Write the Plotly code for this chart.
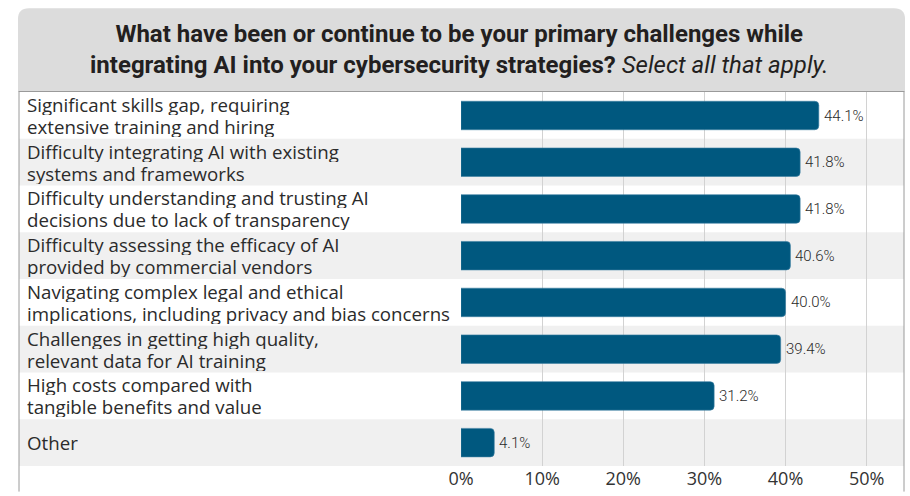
import plotly.graph_objects as go

categories = [
    "Significant skills gap, requiring<br>extensive training and hiring",
    "Difficulty integrating AI with existing<br>systems and frameworks",
    "Difficulty understanding and trusting AI<br>decisions due to lack of transparency",
    "Difficulty assessing the efficacy of AI<br>provided by commercial vendors",
    "Navigating complex legal and ethical<br>implications, including privacy and bias concerns",
    "Challenges in getting high quality,<br>relevant data for AI training",
    "High costs compared with<br>tangible benefits and value",
    "Other",
]
values = [44.1, 41.8, 41.8, 40.6, 40.0, 39.4, 31.2, 4.1]
tick_vals = [0, 10, 20, 30, 40, 50]
tick_labels = ["0%", "10%", "20%", "30%", "40%", "50%"]

W, H = 910, 496
ML, MR, MT, MB = 10, 6, 92, 24
PW = W - ML - MR
PH = H - MT - MB


def px(x):
    return (x - ML) / PW


def py(y):
    return (H - MB - y) / PH


BAR = "#00587f"
TXT = "#2b2b2b"
BAND = "#f0f0f0"
FRAME = "#9a9a9a"

fig = go.Figure()
fig.add_trace(go.Bar(
    x=values, y=categories, orientation="h", width=0.61,
    marker=dict(color=BAR, cornerradius=4, line=dict(color="#3d7fa3", width=0.6)),
    hoverinfo="skip", cliponaxis=False,
))

shapes = []
for i, c in enumerate(categories):
    if i % 2 == 1:
        shapes.append(dict(type="rect", xref="paper", yref="y", x0=0, x1=1,
                           y0=i - 0.5, y1=i + 0.5, fillcolor=BAND,
                           line=dict(width=0), layer="below"))
x0, x1, y0, y1, r = 9, 905, 7, 92, 11
path = (f"M {px(x0)},{py(y1)} L {px(x0)},{py(y0 + r)} "
        f"Q {px(x0)},{py(y0)} {px(x0 + r)},{py(y0)} "
        f"L {px(x1 - r)},{py(y0)} Q {px(x1)},{py(y0)} {px(x1)},{py(y0 + r)} "
        f"L {px(x1)},{py(y1)} Z")
shapes.append(dict(type="path", xref="paper", yref="paper", path=path,
                   fillcolor="#dcdcdc", line=dict(width=0), layer="below"))
for xx in (10, 904):
    shapes.append(dict(type="line", xref="paper", yref="paper",
                       x0=px(xx), x1=px(xx), y0=py(91), y1=py(H + 2),
                       line=dict(color=FRAME, width=1)))
shapes.append(dict(type="line", xref="paper", yref="paper",
                   x0=px(10), x1=px(904), y0=py(91.5), y1=py(91.5),
                   line=dict(color=FRAME, width=1)))

annotations = []
annotations.append(dict(
    xref="paper", yref="paper", x=px(455), y=py(49), xanchor="center", yanchor="middle",
    text="<b>What have been or continue to be your primary challenges while<br>"
         "integrating AI into your cybersecurity strategies?</b> <i>Select all that apply.</i>",
    showarrow=False, align="center",
    font=dict(family="Roboto, Open Sans", size=24, color="#231f20"),
))
for c, v in zip(categories, values):
    lines = c.split("<br>")
    n = len(lines)
    for k, ln in enumerate(lines):
        annotations.append(dict(
            xref="paper", yref="y", x=0, y=c, xanchor="left", yanchor="middle",
            xshift=6, yshift=(n - 1) * 11 - k * 22, text=ln, align="left", showarrow=False,
            height=21, valign="middle",
            font=dict(family="Open Sans, Noto Sans", size=18.7, color=TXT),
        ))
    annotations.append(dict(
        xref="x", yref="y", x=v, y=c, xanchor="left", yanchor="middle",
        xshift=3, text=f"{v:.1f}%", showarrow=False,
        font=dict(family="Roboto", size=15, weight=300, color="#2a2a2a"),
    ))

fig.update_layout(
    width=W, height=H,
    margin=dict(l=ML, r=MR, t=MT, b=MB, pad=0),
    paper_bgcolor="white", plot_bgcolor="rgba(0,0,0,0)",
    showlegend=False, shapes=shapes, annotations=annotations,
    xaxis=dict(range=[0, 54.6], domain=[px(456.5), 1], tickvals=tick_vals, ticktext=tick_labels,
               showgrid=True, gridcolor="#d2d2d2", gridwidth=1, zeroline=False, showline=False,
               ticks="", ticklabelstandoff=0,
               tickfont=dict(family="Open Sans, Noto Sans", size=18, color="#333333"),
               fixedrange=True),
    yaxis=dict(categoryorder="array", categoryarray=categories, autorange="reversed",
               showticklabels=False, showgrid=False, zeroline=False, ticks="", fixedrange=True),
    bargap=0.39,
)

fig.write_html("out.html", config={"displayModeBar": False, "staticPlot": True},
               post_script="document.body.style.margin='0px';document.body.style.overflow='hidden';")
